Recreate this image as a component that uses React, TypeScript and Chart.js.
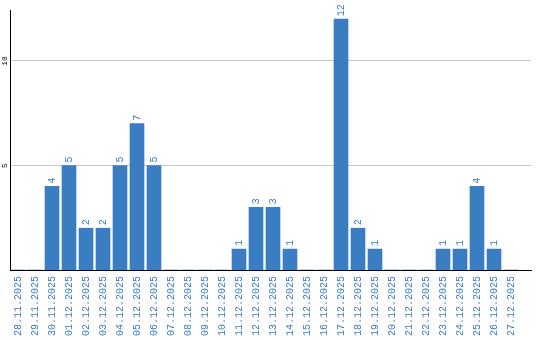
import React, { useEffect, useRef } from "react";
import { Chart, registerables } from "chart.js";

Chart.register(...registerables);

const dateLabels: string[] = [
  "28.11.2025", "29.11.2025", "30.11.2025", "01.12.2025", "02.12.2025",
  "03.12.2025", "04.12.2025", "05.12.2025", "06.12.2025", "07.12.2025",
  "08.12.2025", "09.12.2025", "10.12.2025", "11.12.2025", "12.12.2025",
  "13.12.2025", "14.12.2025", "15.12.2025", "16.12.2025", "17.12.2025",
  "18.12.2025", "19.12.2025", "20.12.2025", "21.12.2025", "22.12.2025",
  "23.12.2025", "24.12.2025", "25.12.2025", "26.12.2025", "27.12.2025",
];

const counts: number[] = [
  0, 0, 4, 5, 2, 2, 5, 7, 5, 0,
  0, 0, 0, 1, 3, 3, 1, 0, 0, 12,
  2, 1, 0, 0, 0, 1, 1, 4, 1, 0,
];

const yTickValues: number[] = [5, 10];

const BLUE = "#3a7dc2";
const MONO = '"Liberation Mono", monospace';

const labelPlugin = {
  id: "customLabels",
  afterDatasetsDraw(chart: any) {
    const { ctx } = chart;
    const meta = chart.getDatasetMeta(0);
    ctx.save();
    ctx.fillStyle = BLUE;
    ctx.font = `10px ${MONO}`;
    ctx.textAlign = "left";
    ctx.textBaseline = "middle";
    meta.data.forEach((bar: any, i: number) => {
      const v = counts[i];
      if (!v) return;
      ctx.save();
      ctx.translate(bar.x, bar.y - 3);
      ctx.rotate(-Math.PI / 2);
      ctx.fillText(String(v), 0, 0);
      ctx.restore();
    });
    const y = chart.scales.y;
    ctx.fillStyle = "#000";
    ctx.font = `8px ${MONO}`;
    ctx.textAlign = "center";
    ctx.textBaseline = "middle";
    yTickValues.forEach((t) => {
      const py = y.getPixelForValue(t);
      ctx.save();
      ctx.translate(4.5, py);
      ctx.rotate(-Math.PI / 2);
      ctx.fillText(String(t), 0, 0);
      ctx.restore();
    });
    ctx.restore();
  },
};

export default function App() {
  const ref = useRef<HTMLCanvasElement | null>(null);

  useEffect(() => {
    if (!ref.current) return;
    const left = 10;
    const right = 531;
    const step = 17;
    const xMin = -8 / step;
    const xMax = xMin + (right - left) / step;
    const chart = new Chart(ref.current, {
      type: "bar",
      data: {
        datasets: [
          {
            data: counts.map((v, i) => ({ x: i, y: v })),
            backgroundColor: BLUE,
            borderWidth: 0,
            barThickness: 14,
          },
        ],
      },
      options: {
        responsive: false,
        animation: false,
        layout: { padding: { top: 10, left: 0, right: 540 - right, bottom: 0 } },
        plugins: { legend: { display: false }, tooltip: { enabled: false } },
        scales: {
          x: {
            type: "linear",
            offset: false,
            bounds: "data",
            min: xMin,
            max: xMax,
            grid: { display: false, drawTicks: false, offset: false },
            border: { display: true, color: "#000", width: 1 },
            afterBuildTicks: (s: any) => {
              s.ticks = dateLabels.map((_, i) => ({ value: i }));
            },
            afterFit: (s: any) => {
              s.height = 70;
            },
            ticks: {
              autoSkip: false,
              minRotation: 90,
              maxRotation: 90,
              padding: 6,
              color: BLUE,
              font: { family: MONO, size: 10 },
              callback: (v: any) => dateLabels[v] ?? "",
            },
          },
          y: {
            min: 0,
            max: 2600 / 209,
            grid: { color: "#c8c8c8", lineWidth: 1, drawTicks: false },
            border: { display: true, color: "#000", width: 1 },
            afterBuildTicks: (s: any) => {
              s.ticks = yTickValues.map((v) => ({ value: v }));
            },
            afterFit: (s: any) => {
              s.width = left;
            },
            ticks: { display: false },
          },
        },
      },
      plugins: [labelPlugin],
    });
    return () => chart.destroy();
  }, []);

  return (
    <div style={{ position: "absolute", left: 0, top: 0, width: 540, height: 340, background: "#fff" }}>
      <canvas ref={ref} width={540} height={340} style={{ display: "block" }} />
    </div>
  );
}
